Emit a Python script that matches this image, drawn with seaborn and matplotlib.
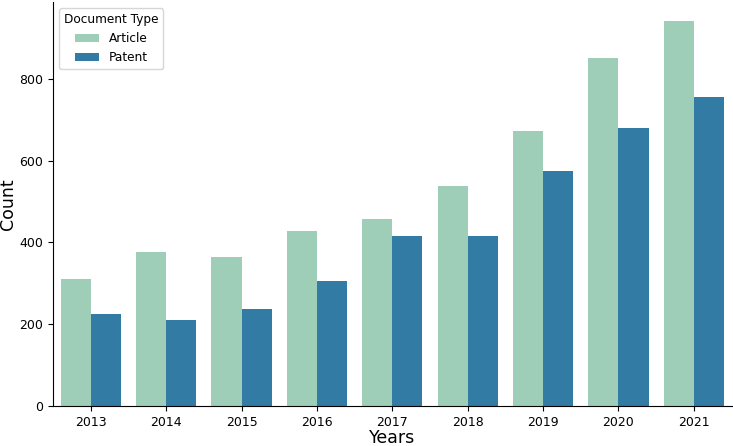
import pandas as pd
import matplotlib
matplotlib.use("Agg")
import matplotlib.pyplot as plt
import seaborn as sns

# counts per year
years = ["2013", "2014", "2015", "2016", "2017", "2018", "2019", "2020", "2021"]
article = [311, 377, 365, 428, 457, 539, 673, 851, 941]
patent = [224, 210, 237, 305, 415, 415, 576, 680, 756]

df = pd.DataFrame({
    "Years": years * 2,
    "Count": article + patent,
    "Document Type": ["Article"] * len(years) + ["Patent"] * len(years),
})

plt.rcParams['font.family'] = ['DejaVu Sans']

fig, ax = plt.subplots(figsize=(7.33, 4.46), dpi=100)
sns.barplot(data=df, x="Years", y="Count", hue="Document Type",
            palette="YlGnBu", linewidth=0, ax=ax)
sns.despine()
ax.set_xlabel("Years", fontsize=12.5, labelpad=0)
ax.set_ylabel("Count", fontsize=12.5, labelpad=1.5)
ax.tick_params(labelsize=9)
ax.legend(title="Document Type", loc="upper left", fontsize=8.7, title_fontsize=8.7)
fig.subplots_adjust(left=0.0725, right=0.998, bottom=0.09, top=0.995)
fig.savefig("out.png", dpi=100)
